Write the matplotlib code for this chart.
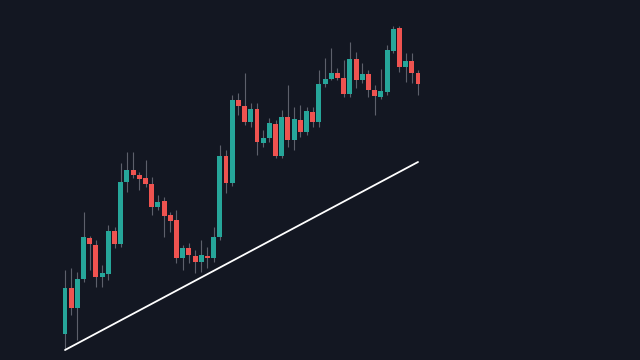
import matplotlib
matplotlib.use('Agg')
import matplotlib.pyplot as plt
import numpy as np

# OHLC
opens = [26, 72, 52, 81, 122, 115, 83, 86, 129, 116, 178, 190, 185, 182, 176, 153, 159, 145, 140, 102,
         112, 104, 98, 104, 102, 123, 204, 177, 260, 254, 238, 251, 217, 222, 236, 204, 243, 220, 240, 228,
         248, 238, 276, 281, 287, 282, 266, 301, 280, 286, 270, 263, 268, 309, 332, 293, 299, 287]
closes = [72, 52, 81, 123, 116, 83, 87, 129, 116, 178, 190, 185, 181, 176, 153, 158, 144, 139, 102, 112,
          105, 98, 105, 102, 123, 204, 177, 260, 254, 238, 251, 218, 222, 237, 204, 243, 220, 241, 228, 249,
          238, 276, 281, 287, 282, 266, 301, 280, 286, 270, 264, 269, 310, 331, 293, 299, 287, 276]
highs = [90, 92, 88, 148, 124, 120, 95, 135, 133, 197, 208, 208, 188, 200, 183, 165, 163, 148, 150, 115,
         117, 110, 120, 113, 133, 215, 210, 265, 267, 287, 257, 257, 230, 242, 240, 250, 275, 253, 255, 253,
         253, 290, 302, 312, 292, 300, 318, 308, 297, 290, 275, 291, 315, 334, 334, 307, 307, 290]
lows = [10, 45, 20, 78, 90, 73, 73, 80, 112, 113, 168, 182, 170, 173, 145, 150, 123, 128, 97, 90,
        97, 87, 88, 92, 98, 120, 167, 174, 245, 235, 233, 205, 213, 218, 202, 202, 213, 210, 223, 225,
        233, 233, 273, 280, 280, 263, 263, 272, 277, 263, 245, 261, 265, 307, 288, 278, 277, 265]

# trendline endpoints (candle index, price)
trend_x = [0, 57]
trend_y = [10, 198]

bg = '#131722'
up_color = '#26a69a'
down_color = '#ef5350'
wick_color = '#5d606b'

fig = plt.figure(figsize=(6.4, 3.6), dpi=100, facecolor=bg)
ax = fig.add_axes([0, 0, 1, 1])
ax.set_facecolor(bg)

x = np.arange(len(opens))
o = np.array(opens)
c = np.array(closes)
colors = [up_color if cc >= oo else down_color for oo, cc in zip(o, c)]

ax.vlines(x, lows, highs, color=wick_color, linewidth=0.8, zorder=1)
bottoms = np.minimum(o, c)
heights = np.maximum(np.abs(c - o), 1.5)
ax.bar(x, heights, bottom=bottoms, width=0.8, color=colors, linewidth=0, zorder=2)

ax.plot(trend_x, trend_y, color='white', linewidth=1.3, zorder=3, solid_capstyle='round')

step = 353 / 57
ax.set_xlim(-65 / step, (640 - 65) / step)
ax.set_ylim(0, 360)
ax.axis('off')

fig.savefig('out.png', dpi=100, facecolor=bg)
plt.close()
